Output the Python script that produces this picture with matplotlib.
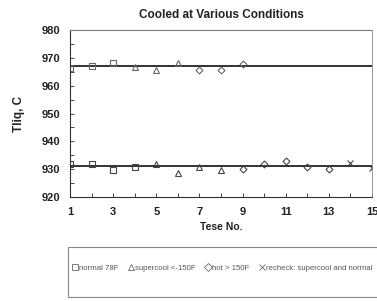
import numpy as np
import matplotlib
matplotlib.use("Agg")
from matplotlib import pyplot as plt
from matplotlib.lines import Line2D
from matplotlib.patches import Rectangle

# data
test_upper = [1, 2, 3, 4, 5, 6, 7, 8, 9]
tliq_upper = [966.3, 966.9, 968.0, 966.6, 965.6, 968.3, 965.8, 965.8, 967.7]
kind_upper = ["normal", "normal", "normal", "supercool", "supercool", "supercool", "hot", "hot", "hot"]

test_lower = [1, 2, 3, 4, 5, 6, 7, 8, 9, 10, 11, 12, 13, 14, 15]
tliq_lower = [932.0, 932.0, 929.7, 930.9, 932.0, 928.6, 930.7, 929.7, 930.2,
              931.9, 933.0, 930.9, 930.0, 932.2, 930.3]
kind_lower = ["normal", "normal", "normal", "normal", "supercool", "supercool", "supercool",
              "supercool", "hot", "hot", "hot", "hot", "hot", "recheck", "recheck"]

line_upper = 967.2
line_lower = 931.0

marcas = {"normal": "s", "supercool": "^", "hot": "D", "recheck": "x"}
etiquetas = ["normal 78F", "supercool <-150F", "hot > 150F", "recheck: supercool and normal"]

plt.rcParams['font.family'] = ['Liberation Sans', 'DejaVu Sans']

fig = plt.figure(figsize=(3.77, 3.01), dpi=100)
ax = fig.add_axes([70/377, 1-197/301, 302/377, 167/301])

def dibujar(xs, ys, kinds, color):
    for x, y, k in zip(xs, ys, kinds):
        m = marcas[k]
        size = 3.5 if m == "D" else 4.5
        ax.plot(x, y, marker=m, ms=size, mfc='none', mec=color, mew=0.8, ls='none')

ax.axhline(line_upper, color='#222222', lw=1.3)
ax.axhline(line_lower, color='#222222', lw=1.3)
dibujar(test_upper, tliq_upper, kind_upper, '#666666')
dibujar(test_lower, tliq_lower, kind_lower, '#444444')

ax.set_xlim(1, 15)
ax.set_ylim(920, 980)
ax.set_xticks(range(1, 16, 2))
ax.set_xticks(range(2, 16, 2), minor=True)
ax.set_yticks(range(920, 981, 10))
ax.set_yticks(range(925, 980, 10), minor=True)
ax.tick_params(which='both', direction='in', length=3, width=0.7, colors='#444444')
ax.tick_params(axis='both', labelsize=8, labelcolor='#222222')
ax.tick_params(axis='y', pad=7)
ax.tick_params(axis='x', pad=7)
for lab in ax.get_xticklabels() + ax.get_yticklabels():
    lab.set_fontweight('bold')

ax.spines['top'].set_linestyle((0, (1, 1)))
ax.spines['top'].set_color('#777777')
ax.spines['right'].set_color('#888888')
ax.spines['right'].set_linewidth(0.6)
ax.spines['left'].set_color('#333333')
ax.spines['bottom'].set_color('#333333')

plt.xlabel('Tese No.', fontsize=7.5, fontweight='bold', color='#222222', labelpad=4)
plt.ylabel('Tliq, C', fontsize=8.5, fontweight='bold', color='#222222', labelpad=12)
plt.title('Cooled at Various Conditions', fontsize=8.5, fontweight='bold', color='#222222', pad=9)

# legend box below the chart
fig.patches.append(Rectangle((68/377, 1-297/301), 310/377, 50/301, transform=fig.transFigure,
                             fill=False, ec='#888888', lw=0.8))
handles = [Line2D([], [], marker=marcas[k], ms=4, mfc='none', mec='#666666', mew=0.6, ls='none')
           for k in ["normal", "supercool", "hot", "recheck"]]
fig.legend(handles, etiquetas, loc='center left', bbox_to_anchor=(70/377, 1-268/301),
           ncol=4, frameon=False, fontsize=5.6, handlelength=0.6, handletextpad=0.2,
           columnspacing=1.3, labelcolor='#555555', borderaxespad=0)

fig.savefig('out.png', dpi=100)
